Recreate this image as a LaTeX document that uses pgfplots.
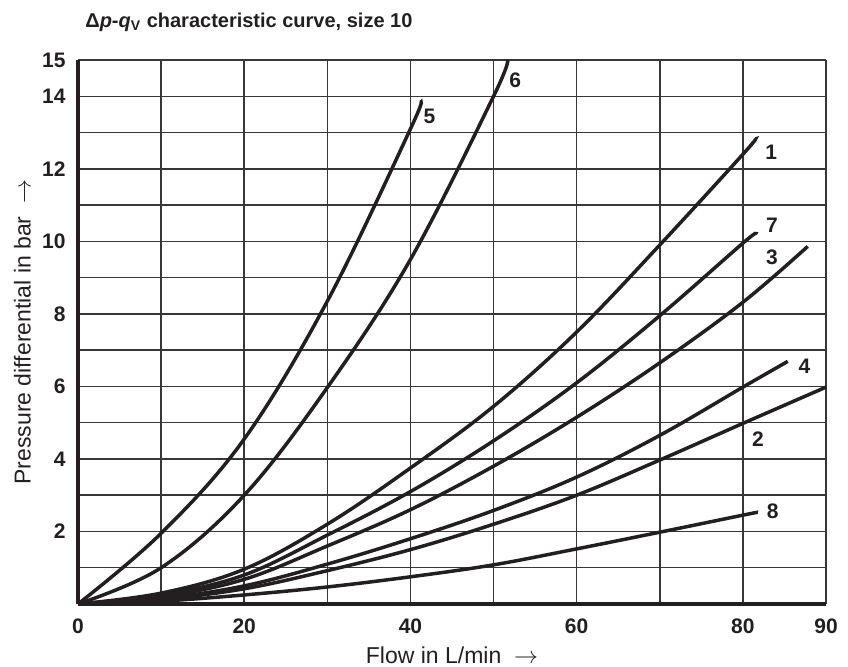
\documentclass[border=0pt]{standalone}
\usepackage{fontspec}
\setmainfont{Liberation Sans}
\usepackage{pgfplots}
\pgfplotsset{compat=1.18}
\definecolor{ink}{RGB}{35,31,32}
\definecolor{gridc}{RGB}{55,55,55}

\begin{document}
\begin{tikzpicture}
\begin{axis}[
  scale only axis, width=374pt, height=272pt,
  xmin=0, xmax=90, ymin=0, ymax=15,
  clip=false,
  axis x line*=bottom, axis y line*=left,
  axis line style={-, line width=1.7pt, ink},
  xtick={0,10,...,90}, xticklabels={0,,20,,40,,60,,80,90},
  ytick={0,1,...,15}, yticklabels={,,2,,4,,6,,8,,10,,12,,14,15},
  major tick length=0pt,
  grid=major, major grid style={gridc, line width=0.75pt},
  /pgf/number format/assume math mode=true,
  tick label style={font=\bfseries\fontsize{10.5}{12}\selectfont, ink},
  xticklabel style={anchor=base, yshift=-14.5pt},
  yticklabel style={anchor=east, inner sep=0pt, xshift=-6pt},
  xlabel={Flow in L/min\ \ $\rightarrow$},
  ylabel={Pressure differential in bar\ \ $\rightarrow$},
  label style={font=\fontsize{11.5}{13}\selectfont, ink},
  xlabel style={at={(axis description cs:0.5,0)}, anchor=base, yshift=-29.5pt},
  ylabel style={at={(axis description cs:-0.0742,0.5)}, anchor=center},
  cycle list={{ink, solid, line width=1.75pt, mark=none}},
  curve/.style={ink, solid, line width=1.75pt, mark=none, smooth, tension=0.6},
]
% curve 5
\addplot[curve] coordinates {(0,0)(10,1.95)(20,4.55)(30,8.35)(40,13.1)(41.2,13.83)};
% curve 6
\addplot[curve] coordinates {(0,0)(10,1.0)(20,3.0)(30,5.97)(40,9.5)(50,14.0)(51.7,15)};
% curve 1
\addplot[curve] coordinates {(0,0)(10,0.3)(20,0.96)(30,2.2)(40,3.75)(50,5.45)(60,7.5)(70,9.9)(80,12.4)(81.5,12.82)};
% curve 7
\addplot[curve] coordinates {(0,0)(10,0.25)(20,0.8)(30,1.9)(40,3.1)(50,4.5)(60,6.1)(70,7.95)(80,9.95)(81.5,10.2)};
% curve 3
\addplot[curve] coordinates {(0,0)(10,0.2)(20,0.68)(30,1.6)(40,2.6)(50,3.8)(60,5.15)(70,6.65)(80,8.32)(87.8,9.86)};
% curve 4
\addplot[curve] coordinates {(0,0)(10,0.15)(20,0.5)(30,1.1)(40,1.8)(50,2.58)(60,3.5)(70,4.65)(80,5.98)(85.4,6.69)};
% curve 2
\addplot[curve] coordinates {(0,0)(10,0.13)(20,0.42)(30,0.92)(40,1.5)(50,2.2)(60,3.0)(70,3.97)(80,4.98)(90,5.98)};
% curve 8
\addplot[curve] coordinates {(0,0)(10,0.08)(20,0.25)(30,0.47)(40,0.75)(50,1.08)(60,1.52)(70,1.98)(80,2.45)(81.8,2.53)};

% curve numbers
\begin{scope}[every node/.style={font=\bfseries\fontsize{10.5}{12}\selectfont, text=ink, inner sep=0pt}]
\node at (axis cs:42.3,13.45) {5};
\node at (axis cs:52.6,14.45) {6};
\node at (axis cs:83.4,12.45) {1};
\node at (axis cs:83.5,10.45) {7};
\node at (axis cs:83.5,9.55) {3};
\node at (axis cs:87.4,6.55) {4};
\node at (axis cs:81.8,4.55) {2};
\node at (axis cs:83.6,2.55) {8};
\end{scope}

% title
\node[anchor=base west, inner sep=0pt, font=\bfseries\fontsize{10}{12}\selectfont, text=ink]
  at (rel axis cs:0,1) [xshift=3.5pt, yshift=16pt]
  {Δ\textit{p}-\textit{q}\textsubscript{V} characteristic curve, size 10};
\end{axis}
\pgfresetboundingbox
\path[use as bounding box] ([xshift=-39pt,yshift=-31pt]current axis.south west)
  rectangle ([xshift=11pt,yshift=30pt]current axis.north east);
\end{tikzpicture}
\end{document}
